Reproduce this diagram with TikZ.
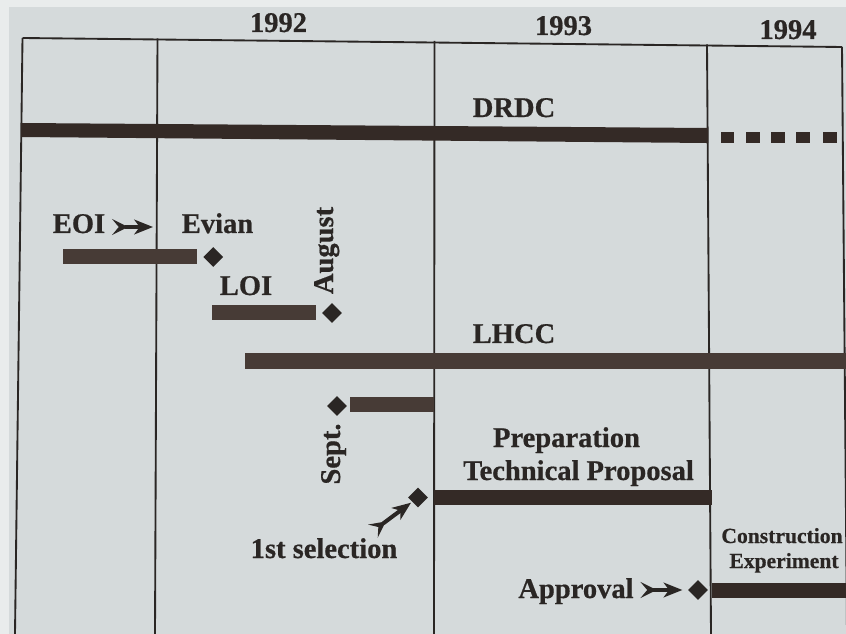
\documentclass[tikz,border=0pt]{standalone}
\usepackage{fontspec}
\setmainfont{Liberation Serif}[BoldFeatures={FakeBold=0.6}]
\usetikzlibrary{arrows.meta,shapes.geometric}
\definecolor{paper}{HTML}{D5DADB}
\definecolor{paperedge}{HTML}{E9ECEC}
\definecolor{ink}{HTML}{2A2624}
\definecolor{barink}{HTML}{473B36}
\definecolor{drdcink}{HTML}{342A26}
\begin{document}
\begin{tikzpicture}[x=0.75pt,y=-0.75pt,
  gridline/.style={draw=ink,line width=1.4pt},
  barfill/.style={fill=barink},
  lbl/.style={font=\fontsize{21.4}{24}\selectfont\bfseries,text=ink,inner sep=0pt,anchor=base},
  smalllbl/.style={font=\fontsize{16.2}{19}\selectfont\bfseries,text=ink,inner sep=0pt,anchor=base},
  ms/.style={diamond,fill=ink,inner sep=0pt,minimum width=15pt,minimum height=15pt},
  fletch/.style={line width=3pt,draw=ink,{Stealth[reversed,length=12pt,width=12pt,inset=5pt]}-{Stealth[length=14pt,width=11pt,inset=4pt]}},
]
\useasboundingbox (0,0) rectangle (846,634);
% paper
\fill[paperedge] (0,0) rectangle (846,634);
\fill[paper] (9,7) rectangle (846,634);

% frame and year lines
\draw[gridline] (22.5,38) -- (842,47);
\draw[gridline] (22.5,38) -- (15,634);
\draw[gridline] (157.5,38.5) -- (155,634);
\draw[gridline] (434.5,41) -- (434,634);
\draw[gridline] (707,44.5) -- (711,634);
\draw[gridline] (842,47) -- (847,634);

% years
\node[lbl] (y92) at (278.5,32) {1992};
\node[lbl] (y93) at (563.5,35) {1993};
\node[lbl] (y94) at (788,39) {1994};

% DRDC
\fill[drdcink] (21,123) -- (708,128) -- (708,143) -- (21,137) -- cycle;
\foreach \a in {720.7,746.3,771.3,796.3,823}
  \fill[drdcink] (\a,131.7) rectangle ++(13.6,11.6);
\node[lbl] (drdc) at (514,117) {DRDC};

% EOI / Evian
\node[lbl] (eoi) at (79,233) {EOI};
\node[lbl] (evian) at (217.5,233) {Evian};
\coordinate (eoiend) at (153,227);
\draw[fletch,shorten <=5pt] (eoi.east |- eoiend) -- (eoiend);
\fill[barfill] (62.7,249) rectangle (197.3,264);
\node[ms] (d1) at (213.3,257) {};

% LOI
\node[lbl] (loi) at (246,295) {LOI};
\fill[barfill] (212,305) rectangle (316,320);
\node[ms] (d2) at (332,313) {};
\node[lbl,rotate=90] (aug) at (333,250.5) {August};

% LHCC
\node[lbl] (lhcc) at (514,343) {LHCC};
\fill[barfill] (245,353) rectangle (846,369);

% Sept
\fill[barfill] (350,397) rectangle (434,412);
\node[ms] (d3) at (337,406) {};
\node[lbl,rotate=90] (sept) at (340,454) {Sept.};

% Technical proposal
\node[lbl] (prep) at (566.5,447) {Preparation};
\node[lbl] (tp) at (578.5,480) {Technical Proposal};
\fill[drdcink] (434,490) rectangle (712,505);
\node[ms] (d4) at (418,497.5) {};
\node[lbl] (sel) at (324,558) {1st selection};
\coordinate (selt) at (373,531);
\draw[fletch,shorten >=1pt] (selt) -- (d4);

% Approval / construction
\node[lbl] (appr) at (576,598) {Approval};
\node[ms] (d5) at (698,590) {};
\draw[fletch,shorten <=5pt,shorten >=4pt] (appr.east |- d5) -- (d5);
\fill[drdcink] (712,583) rectangle (846,598);
\node[smalllbl] (constr) at (782,543) {Construction};
\node[smalllbl] (exper) at (784,568) {Experiment};
\end{tikzpicture}
\end{document}
